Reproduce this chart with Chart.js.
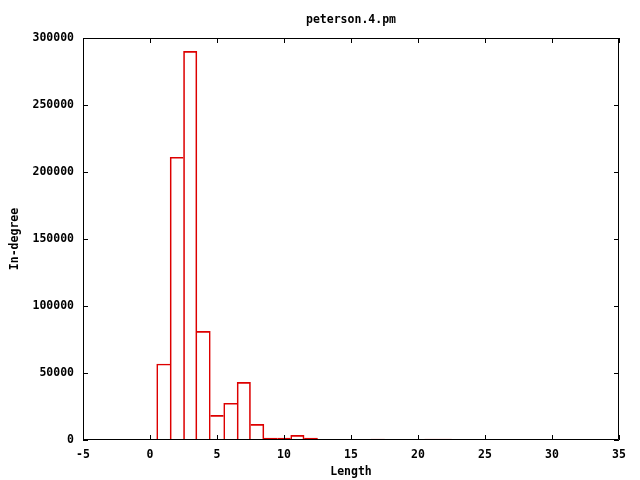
<!DOCTYPE html>
<html>
<head>
<meta charset="utf-8">
<script src="https://cdn.jsdelivr.net/npm/chart.js@4/dist/chart.umd.min.js"></script>
<style>
  body { margin: 0; background: #fff; }
  #wrap { width: 640px; height: 480px; }
</style>
</head>
<body>
<div id="wrap"><canvas id="myChart"></canvas></div>
<script>
// longueur -> in-degree
const lengths = [1, 2, 3, 4, 5, 6, 7, 8, 9, 10, 11, 12, 17, 21, 22];
const indegree = [56700, 211000, 290000, 81100, 18400, 27400, 43000, 11700, 1400, 1400, 3500, 1400, 700, 700, 700];
const xTicks = [-5, 0, 5, 10, 15, 20, 25, 30, 35];
const yTicks = [0, 50000, 100000, 150000, 200000, 250000, 300000];

const font = { family: 'DejaVu Sans Mono', weight: 'bold', size: 11.5, lineHeight: 1.2 };

// un seul trait entre deux barres collees (c'est la plus haute qui le dessine)
function bordure(c) {
    const i = c.dataIndex;
    const prevCollee = i > 0 && lengths[i - 1] === lengths[i] - 1;
    const nextCollee = i < lengths.length - 1 && lengths[i + 1] === lengths[i] + 1;
    return {
        top: 1,
        bottom: 0,
        left: prevCollee && indegree[i - 1] >= indegree[i] ? 0 : 1,
        right: nextCollee && indegree[i + 1] > indegree[i] ? 0 : 1
    };
}

// cadre + petites graduations vers l'interieur comme gnuplot
const boxTicks = {
    id: 'boxTicks',
    afterDraw(chart) {
        const ctx = chart.ctx;
        const a = chart.chartArea;
        const xs = chart.scales.x;
        const ys = chart.scales.y;
        const len = 5;
        ctx.save();
        ctx.strokeStyle = '#000';
        ctx.lineWidth = 1;
        ctx.beginPath();
        ctx.rect(a.left + 0.5, a.top + 0.5, a.right - a.left - 1, a.bottom - a.top - 1);
        xTicks.forEach(v => {
            const px = Math.round(xs.getPixelForValue(v)) + 0.5;
            ctx.moveTo(px, a.bottom);
            ctx.lineTo(px, a.bottom - len);
            ctx.moveTo(px, a.top);
            ctx.lineTo(px, a.top + len);
        });
        yTicks.forEach(v => {
            const py = Math.round(ys.getPixelForValue(v)) + 0.5;
            ctx.moveTo(a.left, py);
            ctx.lineTo(a.left + len, py);
            ctx.moveTo(a.right, py);
            ctx.lineTo(a.right - len, py);
        });
        ctx.stroke();
        ctx.restore();
    }
};

const ctx = document.getElementById('myChart');
const graphique = new Chart(ctx.getContext('2d'), {
    type: 'bar',
    data: {
        datasets: [{
            label: 'peterson.4.pm',
            data: lengths.map((l, i) => ({ x: l, y: indegree[i] })),
            backgroundColor: 'rgba(0,0,0,0)',
            borderColor: '#dd0000',
            borderWidth: bordure,
            borderSkipped: false,
            barPercentage: 1,
            categoryPercentage: 1
        }]
    },
    options: {
        responsive: true,
        maintainAspectRatio: false,
        animation: false,
        layout: { padding: { left: 0, right: 21, top: 0, bottom: 0 } },
        plugins: {
            legend: { display: false },
            tooltip: { enabled: false },
            title: {
                display: true,
                fullSize: false,
                text: 'peterson.4.pm',
                color: '#000',
                font: { family: 'DejaVu Sans Mono', weight: 'bold', size: 11.5, lineHeight: 1 },
                padding: { top: 14, bottom: 12.5 }
            }
        },
        scales: {
            x: {
                type: 'linear',
                min: -5,
                max: 35,
                offset: false,
                afterFit: s => { s.height = 40; },
                afterBuildTicks: s => { s.ticks = xTicks.map(v => ({ value: v })); },
                ticks: { color: '#000', font: font, padding: 8, maxRotation: 0, callback: v => String(v) },
                grid: { display: false, drawTicks: false },
                border: { display: false },
                title: { display: true, text: 'Length', color: '#000', font: font, padding: { top: 4, bottom: 1 } }
            },
            y: {
                min: 0,
                max: 300000,
                afterFit: s => { s.width = 83; },
                afterBuildTicks: s => { s.ticks = yTicks.map(v => ({ value: v })); },
                ticks: { color: '#000', font: font, padding: 9, callback: v => String(v) },
                grid: { display: false, drawTicks: false },
                border: { display: false },
                title: { display: true, text: 'In-degree', color: '#000', font: font, padding: 8 }
            }
        }
    },
    plugins: [boxTicks]
});
</script>
</body>
</html>
